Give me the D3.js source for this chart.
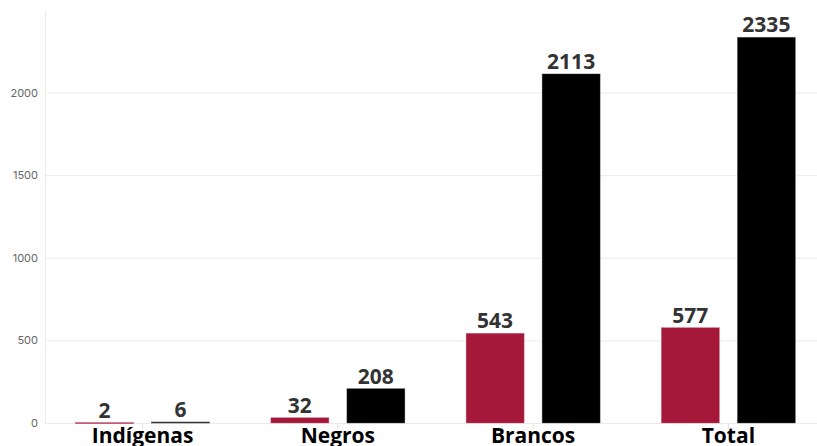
<!DOCTYPE html>
<html><head><meta charset="utf-8">
<script src="https://cdn.jsdelivr.net/npm/d3@7"></script>
<style>body{margin:0;background:#fff;overflow:hidden}svg{display:block}</style>
</head><body>
<script>
const categories = ["Indígenas", "Negros", "Brancos", "Total"];
const series1 = [2, 32, 543, 577];
const series2 = [6, 208, 2113, 2335];
const yTicks = [0, 500, 1000, 1500, 2000];
const colors = ["#a51839", "#000000"];

const W = 817, H = 446;
const svg = d3.select("body").append("svg").attr("width", W).attr("height", H);
const x = d3.scaleBand().domain(categories).range([45, 826]).padding(0);
const y = d3.scaleLinear().domain([0, 2500]).range([423, 10]);

// gridlines
svg.append("g").selectAll("line").data(yTicks).join("line")
  .attr("x1", 45).attr("x2", W).attr("y1", d => y(d) + 0.5).attr("y2", d => y(d) + 0.5)
  .attr("stroke", "#ebebeb").attr("stroke-width", 1);
// left axis line
svg.append("line").attr("x1", 45.5).attr("x2", 45.5).attr("y1", y(2500)).attr("y2", y(0))
  .attr("stroke", "#ebebeb");
// y tick labels
svg.append("g").selectAll("text").data(yTicks).join("text")
  .attr("x", 38).attr("y", d => y(d) + 4).attr("text-anchor", "end")
  .attr("font-family", "Inter, 'Open Sans', sans-serif").attr("font-size", 11)
  .attr("fill", "#666").text(d => d);
// x ticks
svg.append("g").selectAll("line").data(categories).join("line")
  .attr("x1", d => x(d) + x.bandwidth() / 2).attr("x2", d => x(d) + x.bandwidth() / 2)
  .attr("y1", y(0)).attr("y2", y(0) + 6).attr("stroke", "#e0e0e0");

const barW = 58, gap = 18;
const data = [];
categories.forEach((c, i) => {
  data.push({c, v: series1[i], k: 0});
  data.push({c, v: series2[i], k: 1});
});
const bx = d => x(d.c) + x.bandwidth() / 2 + (d.k === 0 ? -gap / 2 - barW : gap / 2);
svg.append("g").selectAll("rect").data(data).join("rect")
  .attr("x", bx).attr("width", barW)
  .attr("y", d => y(d.v)).attr("height", d => Math.max(y(0) - y(d.v), 1))
  .attr("fill", d => colors[d.k])
  .attr("stroke", d => d.k === 0 ? "#c4607a" : "#555").attr("stroke-width", 0.6)
  .attr("stroke-opacity", d => d.v < 20 ? 1 : 0.6);
svg.append("g").selectAll("text").data(data).join("text")
  .attr("x", d => bx(d) + barW / 2).attr("y", d => y(d.v) - 5)
  .attr("text-anchor", "middle").attr("font-family", "'Open Sans', Inter, sans-serif")
  .attr("font-weight", 700).attr("font-size", 21).attr("fill", "#333")
  .text(d => d.v);
svg.append("g").selectAll("text").data(categories).join("text")
  .attr("x", d => x(d) + x.bandwidth() / 2).attr("y", 443)
  .attr("text-anchor", "middle").attr("font-family", "'Open Sans', Inter, sans-serif")
  .attr("font-weight", 700).attr("font-size", 21).attr("fill", "#000")
  .text(d => d);
</script>
</body></html>
